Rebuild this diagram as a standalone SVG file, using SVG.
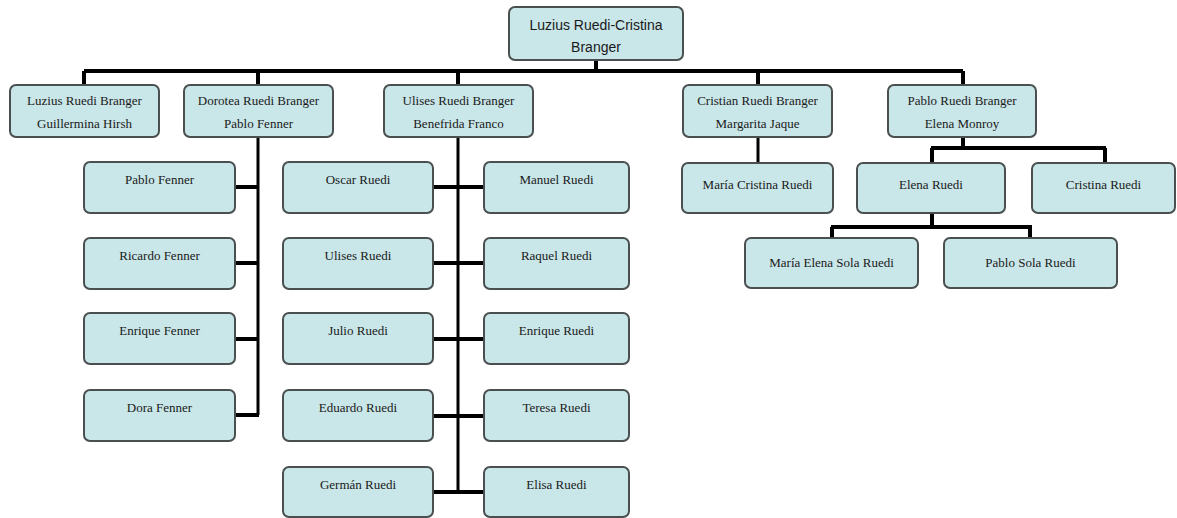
<svg xmlns="http://www.w3.org/2000/svg" width="1177" height="518" viewBox="0 0 1177 518">
<style>
.box{fill:#c9e6e8;stroke:#4a4f50;stroke-width:2}
.t{font-family:"Liberation Serif","DejaVu Serif",serif;font-size:13px;fill:#1a1a1a;text-anchor:middle}
.ts{font-family:"Liberation Sans",Arial,sans-serif;font-size:14px;fill:#1a1a1a;text-anchor:middle}
.ln{stroke:#000;stroke-width:4;fill:none}
.lt{stroke:#000;stroke-width:3;fill:none}
</style>
<rect width="1177" height="518" fill="#fff"/>
<g id="connectors">
<path class="ln" d="M596 60V71M84 71H963M84 71V85M258 71V85M458 71V85M758 71V85M963 71V85"/>
<path class="lt" d="M258 137V415"/>
<path class="ln" d="M235 187H259M235 263H259M235 339H259M235 415H259"/>
<path class="lt" d="M458 137V492"/>
<path class="ln" d="M433 187H484M433 263H484M433 339H484M433 416H484M433 492H484"/>
<path class="lt" d="M758 137V163"/>
<path class="ln" d="M963 137V148M931 148H1106M932 148V163M1105 148V163"/>
<path class="ln" d="M932 213V227M831 227H1032M832 227V238M1030 227V238"/>
</g>
<g id="root"><rect class="box" x="509" y="7" width="174" height="53" rx="6"/><text class="ts" x="596" y="30">Luzius Ruedi-Cristina</text><text class="ts" x="596" y="52">Branger</text></g>
<g id="n-luzius"><rect class="box" x="10" y="85" width="149" height="52" rx="6"/><text class="t" x="84.5" y="105">Luzius Ruedi Branger</text><text class="t" x="84.5" y="128">Guillermina Hirsh</text></g>
<g id="n-dorotea"><rect class="box" x="184" y="85" width="149" height="52" rx="6"/><text class="t" x="258.5" y="105">Dorotea Ruedi Branger</text><text class="t" x="258.5" y="128">Pablo Fenner</text></g>
<g id="n-ulises"><rect class="box" x="384" y="85" width="149" height="52" rx="6"/><text class="t" x="458.5" y="105">Ulises Ruedi Branger</text><text class="t" x="458.5" y="128">Benefrida Franco</text></g>
<g id="n-cristian"><rect class="box" x="683" y="85" width="149" height="52" rx="6"/><text class="t" x="757.5" y="105">Cristian Ruedi Branger</text><text class="t" x="757.5" y="128">Margarita Jaque</text></g>
<g id="n-pablo"><rect class="box" x="888" y="85" width="148" height="52" rx="6"/><text class="t" x="962" y="105">Pablo Ruedi Branger</text><text class="t" x="962" y="128">Elena Monroy</text></g>
<g id="n-pablo-fenner"><rect class="box" x="84" y="162" width="151" height="51" rx="6"/><text class="t" x="159.5" y="184">Pablo Fenner</text></g>
<g id="n-ricardo-fenner"><rect class="box" x="84" y="238" width="151" height="51" rx="6"/><text class="t" x="159.5" y="260">Ricardo Fenner</text></g>
<g id="n-enrique-fenner"><rect class="box" x="84" y="313" width="151" height="51" rx="6"/><text class="t" x="159.5" y="335">Enrique Fenner</text></g>
<g id="n-dora-fenner"><rect class="box" x="84" y="390" width="151" height="51" rx="6"/><text class="t" x="159.5" y="412">Dora Fenner</text></g>
<g id="n-oscar"><rect class="box" x="283" y="162" width="150" height="51" rx="6"/><text class="t" x="358" y="184">Oscar Ruedi</text></g>
<g id="n-ulises-r"><rect class="box" x="283" y="238" width="150" height="51" rx="6"/><text class="t" x="358" y="260">Ulises Ruedi</text></g>
<g id="n-julio"><rect class="box" x="283" y="313" width="150" height="51" rx="6"/><text class="t" x="358" y="335">Julio Ruedi</text></g>
<g id="n-eduardo"><rect class="box" x="283" y="390" width="150" height="51" rx="6"/><text class="t" x="358" y="412">Eduardo Ruedi</text></g>
<g id="n-german"><rect class="box" x="283" y="467" width="150" height="50" rx="6"/><text class="t" x="358" y="489">Germán Ruedi</text></g>
<g id="n-manuel"><rect class="box" x="484" y="162" width="145" height="51" rx="6"/><text class="t" x="556.5" y="184">Manuel Ruedi</text></g>
<g id="n-raquel"><rect class="box" x="484" y="238" width="145" height="51" rx="6"/><text class="t" x="556.5" y="260">Raquel Ruedi</text></g>
<g id="n-enrique-r"><rect class="box" x="484" y="313" width="145" height="51" rx="6"/><text class="t" x="556.5" y="335">Enrique Ruedi</text></g>
<g id="n-teresa"><rect class="box" x="484" y="390" width="145" height="51" rx="6"/><text class="t" x="556.5" y="412">Teresa Ruedi</text></g>
<g id="n-elisa"><rect class="box" x="484" y="467" width="145" height="50" rx="6"/><text class="t" x="556.5" y="489">Elisa Ruedi</text></g>
<g id="n-maria-cristina"><rect class="box" x="682" y="163" width="151" height="50" rx="6"/><text class="t" x="757.5" y="189">María Cristina Ruedi</text></g>
<g id="n-elena-ruedi"><rect class="box" x="857" y="163" width="148" height="50" rx="6"/><text class="t" x="931" y="189">Elena Ruedi</text></g>
<g id="n-cristina-ruedi"><rect class="box" x="1032" y="163" width="143" height="50" rx="6"/><text class="t" x="1103.5" y="189">Cristina Ruedi</text></g>
<g id="n-maria-elena"><rect class="box" x="745" y="238" width="173" height="50" rx="6"/><text class="t" x="831.5" y="267">María Elena Sola Ruedi</text></g>
<g id="n-pablo-sola"><rect class="box" x="944" y="238" width="173" height="50" rx="6"/><text class="t" x="1030.5" y="267">Pablo Sola Ruedi</text></g>
</svg>
